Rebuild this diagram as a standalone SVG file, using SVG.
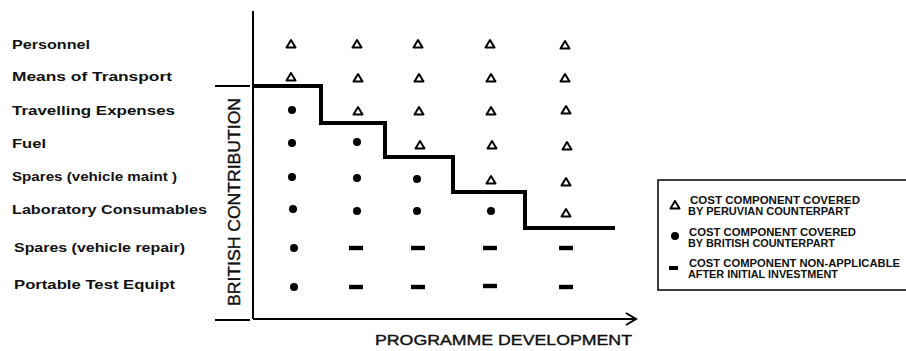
<svg xmlns="http://www.w3.org/2000/svg" width="906" height="351" viewBox="0 0 906 351">
  <style>
    .lbl { font-family: "Liberation Sans", Arial, sans-serif; font-size: 13px; font-weight: bold; fill: #111; }
    .axis { fill: none; stroke: #000; stroke-width: 2; }
    .step { fill: none; stroke: #000; stroke-width: 4; }
    .leg { font-family: "Liberation Sans", Arial, sans-serif; font-size: 10px; font-weight: bold; fill: #111; }
    .cap { font-family: "Liberation Sans", Arial, sans-serif; fill: #111; }
  </style>
  <defs>
    <path id="tri" d="M0,-4 L4.5,3.5 L-4.5,3.5 Z" fill="#fff" stroke="#000" stroke-width="2" stroke-linejoin="round"/>
    <circle id="dot" r="4" fill="#000"/>
    <rect id="dash" x="-7" y="-2.2" width="14" height="4.4" fill="#000"/>
  </defs>
  <rect width="906" height="351" fill="#fff"/>

  <!-- row labels -->
  <g id="row-labels">
    <text class="lbl" x="12" y="49" textLength="78" lengthAdjust="spacingAndGlyphs">Personnel</text>
    <text class="lbl" x="12" y="81" textLength="160" lengthAdjust="spacingAndGlyphs">Means of Transport</text>
    <text class="lbl" x="12" y="115" textLength="163" lengthAdjust="spacingAndGlyphs">Travelling Expenses</text>
    <text class="lbl" x="12" y="148" textLength="34" lengthAdjust="spacingAndGlyphs">Fuel</text>
    <text class="lbl" x="12" y="181" textLength="165" lengthAdjust="spacingAndGlyphs">Spares (vehicle maint )</text>
    <text class="lbl" x="12" y="214" textLength="195" lengthAdjust="spacingAndGlyphs">Laboratory Consumables</text>
    <text class="lbl" x="14" y="252" textLength="171" lengthAdjust="spacingAndGlyphs">Spares (vehicle repair)</text>
    <text class="lbl" x="14" y="289" textLength="161" lengthAdjust="spacingAndGlyphs">Portable Test Equipt</text>
  </g>

  <!-- axes and brackets -->
  <g id="axes">
    <line class="axis" x1="253" y1="11" x2="253" y2="319"/>
    <line class="axis" x1="253" y1="319" x2="636" y2="319"/>
    <polyline class="axis" points="626,313 636,319 626,325"/>
    <line class="axis" x1="215" y1="86" x2="250" y2="86"/>
    <line class="axis" x1="215" y1="320" x2="250" y2="320"/>
  </g>

  <text class="cap" font-size="17" stroke="#111" stroke-width="0.4" text-anchor="middle" transform="translate(240,202) rotate(-90)" textLength="208" lengthAdjust="spacingAndGlyphs">BRITISH CONTRIBUTION</text>
  <text class="cap" font-size="15" stroke="#111" stroke-width="0.4" x="375" y="345" textLength="257" lengthAdjust="spacingAndGlyphs">PROGRAMME DEVELOPMENT</text>

  <!-- staircase boundary -->
  <g id="connectors">
    <polyline class="step" points="253,86 321,86 321,123 385,123 385,157 453,157 453,192 525,192 525,228 615,228"/>
  </g>

  <!-- cost component markers -->
  <g id="markers">
    <!-- column 1 -->
    <use href="#tri" x="291" y="44"/>
    <use href="#tri" x="291" y="77"/>
    <use href="#dot" x="292" y="110"/>
    <use href="#dot" x="292" y="143"/>
    <use href="#dot" x="292" y="177"/>
    <use href="#dot" x="293" y="209"/>
    <use href="#dot" x="294" y="248"/>
    <use href="#dot" x="294" y="287"/>
    <!-- column 2 -->
    <use href="#tri" x="357" y="44"/>
    <use href="#tri" x="358" y="78"/>
    <use href="#tri" x="358" y="111"/>
    <use href="#dot" x="357" y="142"/>
    <use href="#dot" x="357" y="178"/>
    <use href="#dot" x="357" y="211"/>
    <use href="#dash" x="356" y="248"/>
    <use href="#dash" x="356" y="287"/>
    <!-- column 3 -->
    <use href="#tri" x="418" y="44"/>
    <use href="#tri" x="419" y="78"/>
    <use href="#tri" x="419" y="111"/>
    <use href="#tri" x="420" y="145"/>
    <use href="#dot" x="417" y="179"/>
    <use href="#dot" x="417" y="211"/>
    <use href="#dash" x="418" y="248"/>
    <use href="#dash" x="418" y="287"/>
    <!-- column 4 -->
    <use href="#tri" x="490" y="44"/>
    <use href="#tri" x="491" y="78"/>
    <use href="#tri" x="491" y="111"/>
    <use href="#tri" x="492" y="145"/>
    <use href="#tri" x="491" y="180"/>
    <use href="#dot" x="491" y="211"/>
    <use href="#dash" x="490" y="248"/>
    <use href="#dash" x="490" y="286"/>
    <!-- column 5 -->
    <use href="#tri" x="565" y="45"/>
    <use href="#tri" x="565" y="78"/>
    <use href="#tri" x="566" y="110"/>
    <use href="#tri" x="567" y="146"/>
    <use href="#tri" x="566" y="182"/>
    <use href="#tri" x="566" y="213"/>
    <use href="#dash" x="566" y="248"/>
    <use href="#dash" x="566" y="287"/>
  </g>

  <!-- key -->
  <g id="legend">
    <rect x="658" y="180" width="260" height="110" fill="none" stroke="#000" stroke-width="1.5"/>
    <use href="#tri" x="675" y="205"/>
    <text class="leg" x="690" y="204" textLength="170" lengthAdjust="spacingAndGlyphs">COST COMPONENT COVERED</text>
    <text class="leg" x="688" y="215" textLength="162" lengthAdjust="spacingAndGlyphs">BY PERUVIAN COUNTERPART</text>
    <use href="#dot" x="675" y="236"/>
    <text class="leg" x="689" y="236" textLength="167" lengthAdjust="spacingAndGlyphs">COST COMPONENT COVERED</text>
    <text class="leg" x="688" y="247" textLength="147" lengthAdjust="spacingAndGlyphs">BY BRITISH COUNTERPART</text>
    <rect x="669" y="266" width="9" height="4" fill="#000"/>
    <text class="leg" x="689" y="267" textLength="211" lengthAdjust="spacingAndGlyphs">COST COMPONENT NON-APPLICABLE</text>
    <text class="leg" x="688" y="278" textLength="150" lengthAdjust="spacingAndGlyphs">AFTER INITIAL INVESTMENT</text>
  </g>
</svg>
